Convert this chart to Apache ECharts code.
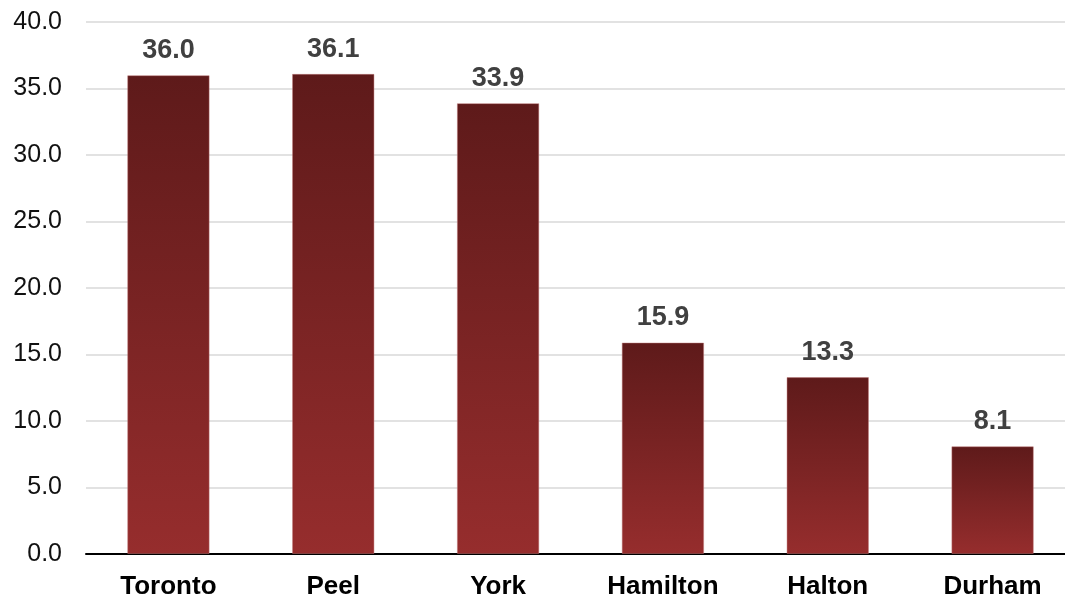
<!DOCTYPE html>
<html>
<head>
<meta charset="utf-8">
<script src="https://cdn.jsdelivr.net/npm/echarts@6/dist/echarts.min.js"></script>
<style>
  html, body { margin: 0; padding: 0; background: #fff; overflow: hidden; }
  /* chart is a bit wider than the window: the plot runs past the right edge, as in the original */
  #chart { width: 1075px; height: 601px; }
</style>
</head>
<body>
<div id="chart"></div>
<script>
var regions = ["Toronto", "Peel", "York", "Hamilton", "Halton", "Durham"];
var values = [36.0, 36.1, 33.9, 15.9, 13.3, 8.1];

var mychart = echarts.init(document.getElementById("chart"));
var font = "Liberation Sans, Arial, sans-serif";

var option = {
    animation: false,
    grid: {
        left: 86,
        right: 0,
        top: 22,
        bottom: 47,
        containLabel: false
    },
    xAxis: {
        type: "category",
        data: regions,
        axisLine: { lineStyle: { color: "#000", width: 2 } },
        axisTick: { show: false },
        axisLabel: {
            interval: 0,
            margin: 20,
            color: "#000",
            fontSize: 26,
            fontWeight: "bold",
            fontFamily: font
        }
    },
    yAxis: {
        type: "value",
        min: 0,
        max: 40,
        interval: 5,
        axisLine: { show: false },
        axisTick: { show: false },
        splitLine: { lineStyle: { color: "#d9d9d9", width: 1.5 } },
        axisLabel: {
            margin: 24,
            color: "#111",
            fontSize: 25,
            fontFamily: font,
            formatter: function (v) { return v.toFixed(1); }
        }
    },
    series: [{
        type: "bar",
        data: values,
        barWidth: "50%",
        itemStyle: {
            color: new echarts.graphic.LinearGradient(0, 0, 0, 1, [
                { offset: 0, color: "#5e1a1a" },
                { offset: 1, color: "#962d2d" }
            ]),
            borderColor: "rgba(190,120,120,0.45)",
            borderWidth: 1
        },
        label: {
            show: true,
            position: "top",
            distance: 11,
            color: "#404040",
            fontSize: 27,
            fontWeight: "bold",
            fontFamily: font,
            formatter: function (p) { return p.value.toFixed(1); }
        }
    }]
};

mychart.setOption(option);
</script>
</body>
</html>
